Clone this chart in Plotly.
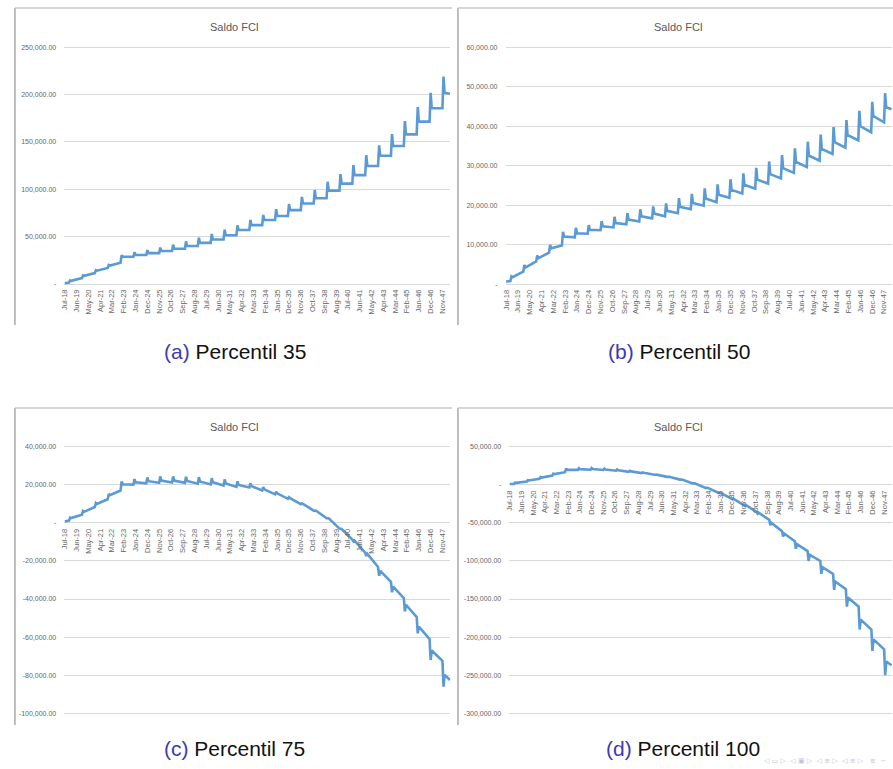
import plotly.graph_objects as go

W, H = 893, 769

# ---------------- shared category axis (monthly, Jul-18 .. Jun-48) ----------------
N_MONTHS = 360
FIRST_SPIKE = 5          # Dec-18 (month index), one spike every December
x_tick_labels = ["Jul-18", "Jun-19", "May-20", "Apr-21", "Mar-22", "Feb-23", "Jan-24",
                 "Dec-24", "Nov-25", "Oct-26", "Sep-27", "Aug-28", "Jul-29", "Jun-30",
                 "May-31", "Apr-32", "Mar-33", "Feb-34", "Jan-35", "Dec-35", "Nov-36",
                 "Oct-37", "Sep-38", "Aug-39", "Jul-40", "Jun-41", "May-42", "Apr-43",
                 "Mar-44", "Feb-45", "Jan-46", "Dec-46", "Nov-47"]
x_tick_pos = [11 * i for i in range(len(x_tick_labels))]

# ---------------- data (thousands) : value before / at / after each December -------------
# (a) Percentil 35
a_start, a_end = 0.8, 201.0
a_pre = [1.5, 6.2, 11.5, 17.0, 22.5, 28.8, 30.6, 32.6, 34.8, 37.3, 40.2, 43.4, 47.0, 51.5, 57.0,
         62.2, 67.6, 71.8, 78.0, 85.0, 90.5, 98.6, 106.0, 115.0, 124.6, 135.5, 145.8, 158.0, 171.5, 185.6]
a_peak = [3.8, 9.0, 14.5, 20.0, 30.5, 33.5, 35.8, 38.5, 41.5, 45.0, 48.8, 52.8, 57.5, 62.0, 67.6,
          72.9, 79.0, 84.5, 92.0, 99.3, 108.0, 116.0, 125.7, 136.0, 146.5, 158.4, 172.0, 187.0, 202.0, 219.0]
a_post = [3.3, 8.6, 14.0, 19.5, 28.8, 30.6, 32.6, 34.8, 37.3, 40.2, 43.4, 47.0, 51.5, 57.0, 62.2,
          67.6, 71.8, 78.0, 85.0, 90.5, 98.6, 106.0, 115.0, 124.6, 135.5, 145.8, 158.0, 171.5, 185.6, 202.0]

# (b) Percentil 50
b_start, b_end = 0.7, 44.3
b_pre = [0.8, 3.2, 5.8, 8.0, 9.8, 11.9, 12.8, 13.7, 14.4, 15.2, 15.9, 16.7, 17.2, 18.0, 19.0,
         19.9, 20.8, 21.9, 23.0, 24.2, 25.5, 26.8, 28.2, 29.7, 31.3, 33.0, 34.6, 36.4, 38.5, 41.0]
b_peak = [2.0, 4.9, 7.3, 10.0, 13.3, 14.3, 15.0, 16.0, 17.1, 18.0, 19.0, 19.7, 20.5, 21.8, 22.9,
          24.3, 25.3, 26.6, 28.1, 29.5, 31.1, 32.7, 34.4, 36.1, 37.9, 39.8, 41.6, 43.9, 46.2, 48.4]
b_post = [1.8, 4.2, 6.6, 9.1, 12.1, 12.9, 13.8, 14.7, 15.5, 16.4, 17.2, 17.9, 18.6, 19.6, 20.6,
          21.7, 22.7, 23.9, 25.2, 26.5, 27.9, 29.4, 31.0, 32.6, 34.3, 36.0, 37.8, 40.0, 42.6, 44.8]

# (c) Percentil 75
c_start, c_end = 0.7, -82.5
c_pre = [1.2, 4.3, 8.3, 12.4, 17.0, 20.1, 20.8, 21.1, 21.2, 21.0, 20.6, 20.2, 19.6, 18.9, 18.6,
         17.0, 15.0, 12.6, 9.8, 6.4, 2.4, -3.0, -8.8, -15.6, -23.2, -31.0, -39.5, -49.5, -61.0, -72.5]
c_peak = [2.8, 6.2, 10.4, 15.2, 21.8, 23.0, 23.9, 24.4, 24.4, 24.2, 24.0, 23.5, 22.8, 21.8, 20.8,
          18.8, 16.3, 13.5, 10.3, 6.6, 2.4, -3.3, -9.6, -17.4, -27.8, -36.5, -46.5, -58.0, -72.0, -86.0]
c_post = [2.5, 5.8, 9.9, 14.6, 20.3, 21.3, 21.9, 22.2, 22.2, 22.0, 21.7, 21.3, 20.7, 19.9, 19.3,
          17.6, 15.5, 13.0, 10.0, 6.5, 2.4, -3.2, -9.2, -16.3, -25.2, -33.5, -43.0, -54.5, -67.0, -79.8]

# (d) Percentil 100
d_start, d_end = 1.0, -237.0
d_pre = [1.2, 4.3, 8.0, 12.0, 16.5, 19.6, 19.8, 19.4, 18.5, 17.1, 15.3, 13.1, 10.4, 6.8, 1.8,
         -4.0, -10.5, -17.8, -26.0, -35.5, -46.0, -61.0, -74.0, -87.0, -100.0, -117.0, -137.0, -160.0, -190.0, -216.0]
d_peak = [2.8, 6.0, 10.0, 14.6, 21.4, 21.8, 22.0, 21.2, 20.0, 18.3, 16.2, 13.7, 10.7, 6.9, 1.8,
          -4.0, -10.5, -18.6, -27.5, -38.0, -53.0, -68.0, -84.0, -100.0, -117.0, -138.0, -160.0, -190.0, -218.0, -250.0]
d_post = [2.5, 5.6, 9.5, 14.0, 19.8, 20.5, 20.6, 20.1, 19.1, 17.6, 15.7, 13.3, 10.5, 6.8, 1.8,
          -4.0, -10.5, -18.2, -26.7, -36.7, -50.0, -64.0, -78.0, -92.0, -108.0, -127.0, -148.0, -177.0, -203.0, -232.0]

# y tick values (thousands) and labels
a_yvals = [0, 50, 100, 150, 200, 250]
a_ytext = ["-", "50,000.00", "100,000.00", "150,000.00", "200,000.00", "250,000.00"]
b_yvals = [0, 10, 20, 30, 40, 50, 60]
b_ytext = ["-", "10,000.00", "20,000.00", "30,000.00", "40,000.00", "50,000.00", "60,000.00"]
c_yvals = [-100, -80, -60, -40, -20, 0, 20, 40]
c_ytext = ["-100,000.00", "-80,000.00", "-60,000.00", "-40,000.00", "-20,000.00", "-", "20,000.00", "40,000.00"]
d_yvals = [-300, -250, -200, -150, -100, -50, 0, 50]
d_ytext = ["-300,000.00", "-250,000.00", "-200,000.00", "-150,000.00", "-100,000.00", "-50,000.00", "-", "50,000.00"]

chart_title = "Saldo FCI"
captions = [("(a)", "Percentil 35"), ("(b)", "Percentil 50"), ("(c)", "Percentil 75"), ("(d)", "Percentil 100")]
nav_symbols = "◁ ▭ ▷  ◁ ▣ ▷  ◁ ≡ ▷  ◁ ≡ ▷   ≡  ∽"


def build(start, pre, peak, post, end):
    xs, ys = [0], [start]
    for k in range(len(pre)):
        s = FIRST_SPIKE + 12 * k
        xs += [s - 1, s, s + 1]
        ys += [pre[k], peak[k], post[k]]
    xs.append(N_MONTHS - 1)
    ys.append(end)
    return xs, ys


def ydom(v_top, p_top, v_bot, p_bot, lo, hi):
    sc = (p_bot - p_top) / (v_top - v_bot)
    py_lo = p_bot + (v_bot - lo) * sc
    py_hi = p_top - (hi - v_top) * sc
    return [1 - py_lo / H, 1 - py_hi / H]


# layout geometry (pixels) for each panel
panels = [
    dict(data=(a_start, a_pre, a_peak, a_post, a_end), yv=a_yvals, yt=a_ytext,
         xpix=(60.5, 448.5), ycal=(250, 47.3, 0, 284.0), yr=(-4, 254), zero=284.0,
         title=(232, 27), cap=(232, 351), frame=(11, 8, 450, 325)),
    dict(data=(b_start, b_pre, b_peak, b_post, b_end), yv=b_yvals, yt=b_ytext,
         xpix=(503.8, 892.1), ycal=(60, 47.3, 0, 284.3), yr=(-1, 61), zero=284.3,
         title=(678, 27), cap=(678, 351), frame=(456, 8, 893, 325)),
    dict(data=(c_start, c_pre, c_peak, c_post, c_end), yv=c_yvals, yt=c_ytext,
         xpix=(60.5, 448.5), ycal=(40, 446.7, -100, 713.3), yr=(-102, 42), zero=523.3,
         title=(232, 427), cap=(232, 748), frame=(11, 408, 450, 725)),
    dict(data=(d_start, d_pre, d_peak, d_post, d_end), yv=d_yvals, yt=d_ytext,
         xpix=(507.5, 892.1), ycal=(50, 446.7, -300, 713.3), yr=(-305, 55), zero=485.0,
         title=(678, 427), cap=(682, 748), frame=(456, 408, 893, 725)),
]

LINE_BLUE = "#5B9BD5"
GRID = "#D9D9D9"
TICK_GRAY = "#666666"
FONT = "Liberation Sans"

fig = go.Figure()
layout = dict(width=W, height=H, margin=dict(l=0, r=0, t=0, b=0),
              paper_bgcolor="white", plot_bgcolor="white", showlegend=False)
annotations = []
shapes = []

for i, p in enumerate(panels, start=1):
    sx = "" if i == 1 else str(i)
    xs, ys = build(*p["data"])
    fig.add_trace(go.Scatter(x=xs, y=ys, mode="lines",
                             line=dict(color=LINE_BLUE, width=2.6),
                             xaxis="x" + sx, yaxis="y" + sx, hoverinfo="skip"))
    x0, x1 = p["xpix"]
    layout["xaxis" + sx] = dict(
        domain=[x0 / W, x1 / W], range=[-0.5, N_MONTHS - 0.5],
        anchor="free", position=1 - p["zero"] / H,
        tickmode="array", tickvals=x_tick_pos, ticktext=x_tick_labels,
        tickangle=-90, tickfont=dict(family=FONT, size=7.5, color=TICK_GRAY),
        showgrid=False, zeroline=False, showline=False, ticks="",
        ticklabelstandoff=3, fixedrange=True)
    vt, pt, vb, pb = p["ycal"]
    layout["yaxis" + sx] = dict(
        domain=ydom(vt, pt, vb, pb, *p["yr"]), range=list(p["yr"]),
        anchor="x" + sx, tickmode="array", tickvals=p["yv"], ticktext=p["yt"],
        tickfont=dict(family=FONT, size=7, color=TICK_GRAY),
        showgrid=True, gridcolor=GRID, gridwidth=1, zeroline=False,
        showline=False, ticks="", ticklabelstandoff=7, fixedrange=True)
    tx, ty = p["title"]
    annotations.append(dict(text=chart_title, x=tx / W, y=1 - ty / H, xref="paper", yref="paper",
                            showarrow=False, xanchor="center", yanchor="middle",
                            font=dict(family=FONT, size=11, color="#595959")))
    cx, cy = p["cap"]
    lab, txt = captions[i - 1]
    annotations.append(dict(text='<span style="color:#3B3BB0">' + lab + '</span> ' + txt,
                            x=cx / W, y=1 - cy / H, xref="paper", yref="paper",
                            showarrow=False, xanchor="center", yanchor="middle",
                            font=dict(family=FONT, size=21, color="#111111")))
    fl, ft, fr, fb = p["frame"]
    shapes.append(dict(type="line", xref="paper", yref="paper", x0=fl / W, x1=fl / W,
                       y0=1 - ft / H, y1=1 - fb / H, line=dict(color="#A9A9A9", width=1.5)))
    shapes.append(dict(type="line", xref="paper", yref="paper", x0=fl / W, x1=fr / W,
                       y0=1 - ft / H, y1=1 - ft / H, line=dict(color="#C8C8C8", width=1.5)))

# beamer navigation symbols (faint, bottom right)
annotations.append(dict(text=nav_symbols, x=888 / W, y=1 - 761 / H, xref="paper", yref="paper",
                        showarrow=False, xanchor="right", yanchor="middle",
                        font=dict(family="DejaVu Sans", size=7, color="#C4C4D4")))

layout["annotations"] = annotations
layout["shapes"] = shapes
fig.update_layout(**layout)
fig.write_html("out.html", config={"displayModeBar": False},
               post_script="document.body.style.margin='0';document.body.style.overflow='hidden';")
